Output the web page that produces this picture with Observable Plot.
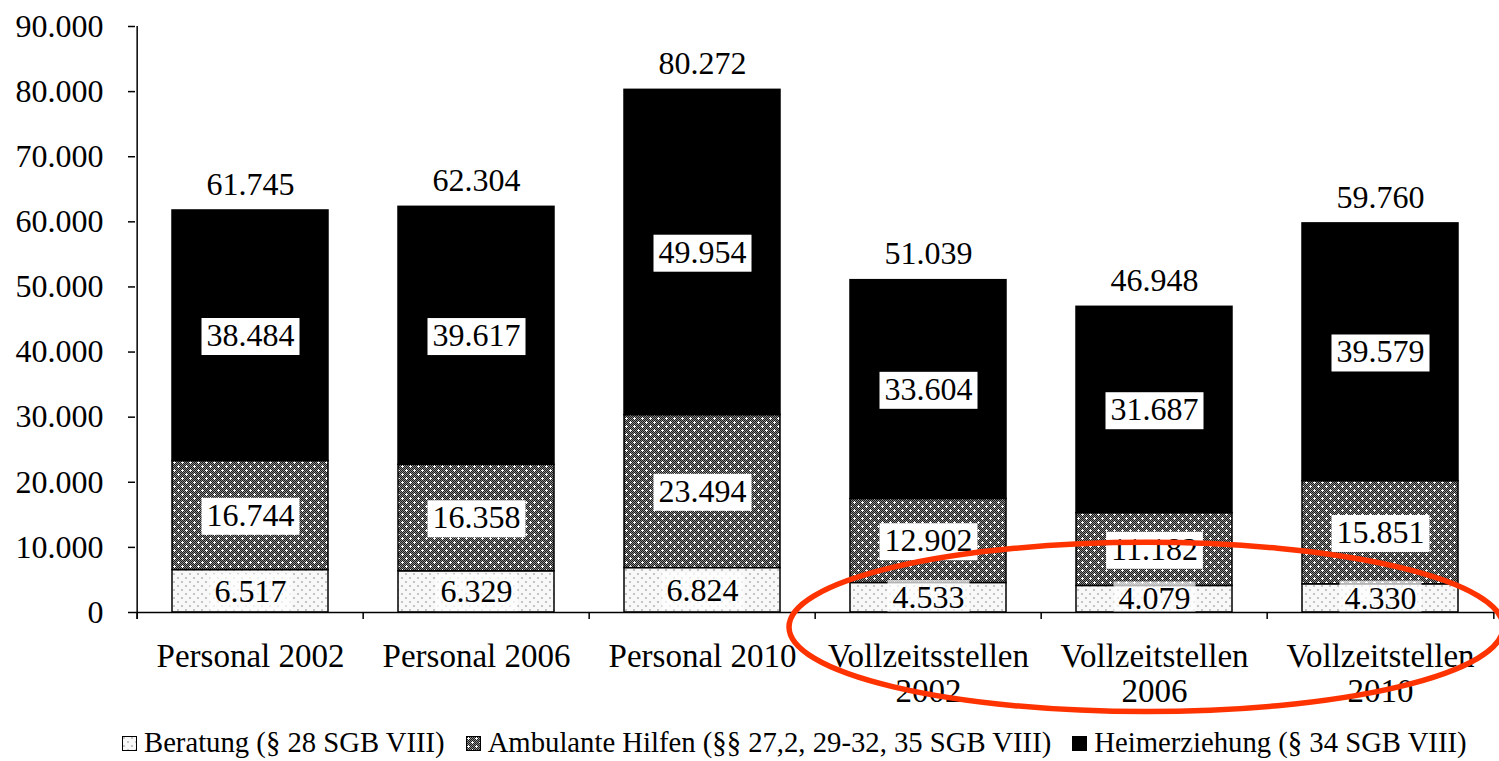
<!DOCTYPE html>
<html><head><meta charset="utf-8">
<script src="https://cdn.jsdelivr.net/npm/d3@7"></script>
<script src="https://cdn.jsdelivr.net/npm/@observablehq/plot@0.6"></script>
<style>
html,body{margin:0;padding:0;background:#fff;}
body{font-family:"Liberation Serif","Times New Roman",serif;color:#000;width:1499px;height:761px;overflow:hidden;}
#chart svg{display:block;overflow:visible;}
#legend{display:flex;align-items:center;height:37px;padding-top:6px;padding-left:122px;font-size:28.7px;white-space:nowrap;}
#legend .item{display:flex;align-items:center;margin-right:21px;}
#legend svg{display:block;margin-right:7px;margin-top:2px;}
</style></head><body>
<svg width="0" height="0" style="position:absolute">
  <defs>
    <pattern id="chk" width="2" height="2" patternUnits="userSpaceOnUse">
      <rect width="2" height="2" fill="#8a8a8a"/>
      <rect width="1" height="1" fill="#1a1a1a"/>
      <rect x="1" y="1" width="1" height="1" fill="#1a1a1a"/>
    </pattern>
    <pattern id="patAmb" width="8" height="8" patternUnits="userSpaceOnUse">
      <rect width="8" height="8" fill="url(#chk)"/>
      <rect x="1" y="2" width="3" height="1" fill="#fff"/>
      <rect x="2" y="1" width="1" height="3" fill="#fff"/>
      <rect x="5" y="6" width="3" height="1" fill="#fff"/>
      <rect x="6" y="5" width="1" height="3" fill="#fff"/>
    </pattern>
    <pattern id="patBer" width="8" height="8" patternUnits="userSpaceOnUse">
      <rect width="8" height="8" fill="#f8f8f8"/>
      <rect x="1" y="1" width="2" height="2" fill="#c4c4c4"/>
      <rect x="5" y="5" width="2" height="2" fill="#c4c4c4"/>
    </pattern>
  </defs>
</svg>
<div id="chart"></div>
<div id="legend"></div>
<script>
// ---- data ----
const categories = ["Personal 2002", "Personal 2006", "Personal 2010", "Vollzeitsstellen\n2002", "Vollzeitstellen\n2006", "Vollzeitstellen\n2010"];
const seriesNames = ["Beratung (§ 28 SGB VIII)", "Ambulante Hilfen (§§ 27,2, 29-32, 35 SGB VIII)", "Heimerziehung (§ 34 SGB VIII)"];
const beratung = [6517, 6329, 6824, 4533, 4079, 4330];
const ambulante = [16744, 16358, 23494, 12902, 11182, 15851];
const heimerziehung = [38484, 39617, 49954, 33604, 31687, 39579];
const totals = [61745, 62304, 80272, 51039, 46948, 59760];
const yTicks = [0, 10000, 20000, 30000, 40000, 50000, 60000, 70000, 80000, 90000];
const patternFills = ["url(#patBer)", "url(#patAmb)", "#000"];
// annotation ellipse (in data units): centre category, offset in steps, centre value, radii
const annotation = {category: "Vollzeitstellen\n2006", dxSteps: -0.035, value: -2300, rxSteps: 1.58, ryValue: 13000};

// ---- build ----
const de = d3.formatLocale({decimal: ",", thousands: ".", grouping: [3], currency: ["", " €"]});
const fmt = de.format(",d");
const seriesValues = [beratung, ambulante, heimerziehung];
const rows = [];
categories.forEach((c, i) => seriesValues.forEach((vals, s) => rows.push({cat: c, series: seriesNames[s], value: vals[i]})));
const totalRows = categories.map((c, i) => ({cat: c, total: totals[i]}));

const W = 1499, H = 718, mL = 135, mR = 4, mT = 26, mB = 106;
const step = (W - mL - mR) / categories.length;
const tickLen = 7 * 90000 / (H - mT - mB);
const font = "Liberation Serif, Times New Roman, serif";
const FS = 33;

const plot = Plot.plot({
  width: W, height: H,
  marginLeft: mL, marginRight: mR, marginTop: mT, marginBottom: mB,
  style: {fontFamily: font, fontSize: FS + "px", color: "#000", background: "#fff", overflow: "visible"},
  x: {domain: categories, paddingInner: 0.31, paddingOuter: 0.155, axis: null, label: null},
  y: {domain: [0, 90000], axis: null, label: null},
  color: {domain: seriesNames, range: patternFills},
  marks: [
    Plot.barY(rows, {x: "cat", y: "value", fill: "series", stroke: "#000", strokeWidth: 1.5}),
    Plot.text(rows, Plot.stackY({x: "cat", y: "value", text: d => fmt(d.value), fill: "#000", fontSize: FS - 1})),
    Plot.text(totalRows, {x: "cat", y: "total", text: d => fmt(d.total), dy: -26, fontSize: FS - 1, fill: "#000"}),
    // axis lines
    Plot.ruleY([0], {stroke: "#000", strokeWidth: 1.5}),
    Plot.ruleX([categories[0]], {x: d => d, dx: -step / 2, y1: -tickLen, y2: 90000, stroke: "#000", strokeWidth: 1.5}),
    // category boundary ticks
    Plot.ruleX(categories, {x: d => d, dx: -step / 2, y1: 0, y2: -tickLen, stroke: "#000", strokeWidth: 1.5}),
    Plot.ruleX([categories[categories.length - 1]], {x: d => d, dx: step / 2, y1: 0, y2: -tickLen, stroke: "#000", strokeWidth: 1.5}),
    Plot.axisY({ticks: yTicks, tickSize: 7, tickPadding: 25, tickFormat: fmt, fontSize: FS - 1, label: null, strokeWidth: 1.5}),
    Plot.axisX({tickSize: 0, tickPadding: 30, fontSize: FS, lineHeight: 1.05, label: null})
  ]
});
document.getElementById("chart").appendChild(plot);

// label boxes behind the segment labels
const ns = "http://www.w3.org/2000/svg";
const berSet = new Set(beratung.map(fmt));
const segSet = new Set([...beratung, ...ambulante, ...heimerziehung].map(fmt));
plot.querySelectorAll("text").forEach(t => {
  if (!segSet.has(t.textContent)) return;
  const b = t.getBBox();
  const r = document.createElementNS(ns, "rect");
  r.setAttribute("x", b.x - 5);
  r.setAttribute("y", b.y + 1);
  r.setAttribute("width", b.width + 10);
  r.setAttribute("height", b.height + 1);
  r.setAttribute("fill", "#fff");
  if (berSet.has(t.textContent)) r.setAttribute("fill-opacity", "0.7");
  if (t.getAttribute("transform")) r.setAttribute("transform", t.getAttribute("transform"));
  t.parentNode.insertBefore(r, t);
});

// annotation ellipse
const sx = plot.scale("x"), sy = plot.scale("y");
const e = document.createElementNS(ns, "ellipse");
e.setAttribute("cx", sx.apply(annotation.category) + sx.bandwidth / 2 + annotation.dxSteps * sx.step);
e.setAttribute("cy", sy.apply(annotation.value));
e.setAttribute("rx", annotation.rxSteps * sx.step);
e.setAttribute("ry", sy.apply(0) - sy.apply(annotation.ryValue));
e.setAttribute("fill", "none");
e.setAttribute("stroke", "#ff3300");
e.setAttribute("stroke-width", 5.5);
plot.appendChild(e);

// legend
const legend = d3.select("#legend");
seriesNames.forEach((s, i) => {
  const item = legend.append("span").attr("class", "item");
  item.append("svg").attr("width", 15).attr("height", 15)
    .append("rect").attr("x", 0.5).attr("y", 0.5).attr("width", 14).attr("height", 14)
    .attr("fill", patternFills[i]).attr("stroke", "#000").attr("stroke-width", 1);
  item.append("span").text(s);
});
</script>
</body></html>
